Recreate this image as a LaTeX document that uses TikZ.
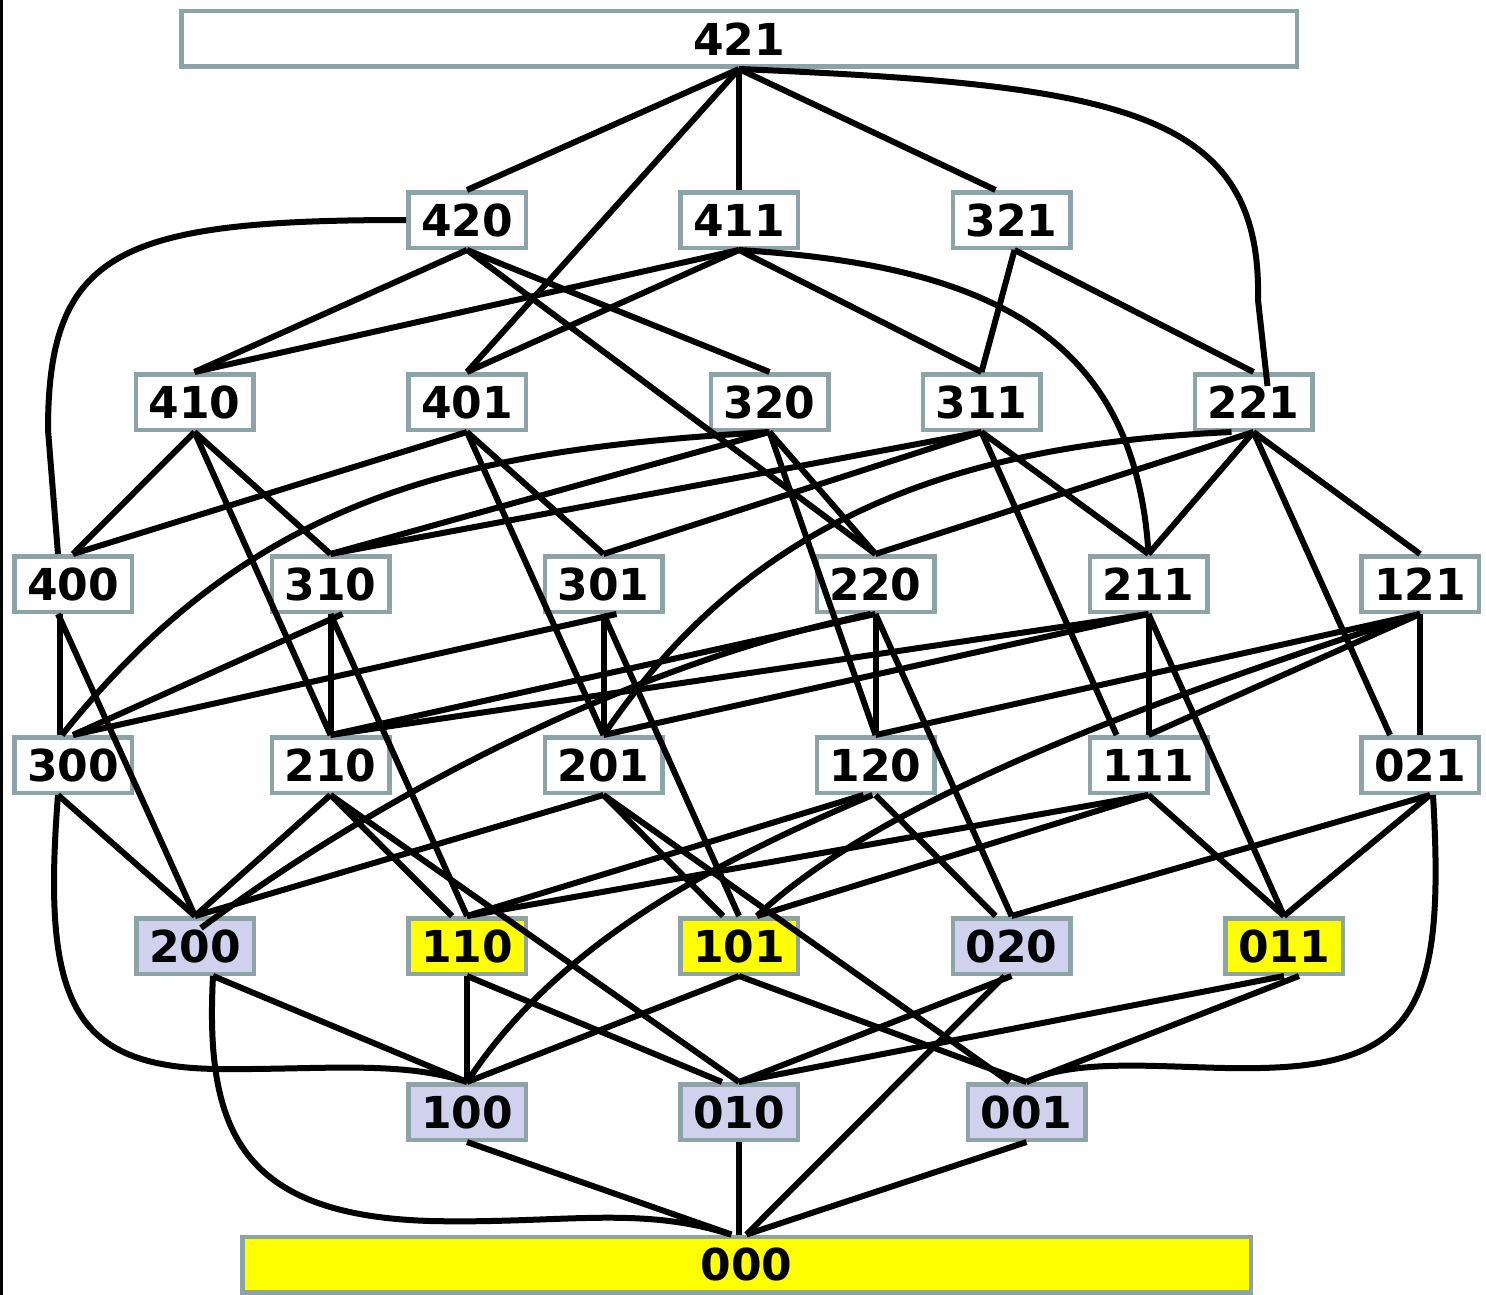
\documentclass[tikz,border=0pt]{standalone}
\usepackage{fontspec}
\newfontfamily\nodefont{DejaVu Sans}
\definecolor{boxc}{HTML}{8CA4A6}
\definecolor{lavc}{HTML}{D0D1ED}
\definecolor{yelc}{HTML}{FFFF00}
\begin{document}
\begin{tikzpicture}[x=1pt,y=-1pt,
  box/.style={draw=boxc, line width=4.5pt, fill=white, minimum width=117.5pt, minimum height=55.5pt,
    inner sep=0pt, font=\nodefont\bfseries\fontsize{44}{44}\selectfont},
  lav/.style={box, fill=lavc},
  yel/.style={box, fill=yelc},
  edge/.style={line width=6pt, black}]
\useasboundingbox (0,0) rectangle (1486,1295);
\fill[black] (0,0) rectangle (3,1295);
% nodes
\node[box, minimum width=1115.5pt] (n421) at (739,39) {421};
\node[box] (n420) at (467,220) {420};
\node[box] (n411) at (739,220) {411};
\node[box] (n321) at (1011.5,220) {321};
\node[box] (n410) at (194.5,402) {410};
\node[box] (n401) at (467,402) {401};
\node[box] (n320) at (769.5,402) {320};
\node[box] (n311) at (981.5,402) {311};
\node[box] (n221) at (1253.5,402) {221};
\node[box] (n400) at (73,584) {400};
\node[box] (n310) at (330.5,584) {310};
\node[box] (n301) at (603.5,584) {301};
\node[box] (n220) at (875.5,584) {220};
\node[box] (n211) at (1148.5,584) {211};
\node[box] (n121) at (1420,584) {121};
\node[box] (n300) at (73,765) {300};
\node[box] (n210) at (330.5,765) {210};
\node[box] (n201) at (603.5,765) {201};
\node[box] (n120) at (875.5,765) {120};
\node[box] (n111) at (1148.5,765) {111};
\node[box] (n021) at (1420,765) {021};
\node[lav] (n200) at (195,946) {200};
\node[yel] (n110) at (467,946) {110};
\node[yel] (n101) at (739,946) {101};
\node[lav] (n020) at (1011.5,946) {020};
\node[yel] (n011) at (1284,946) {011};
\node[lav] (n100) at (467,1112) {100};
\node[lav] (n010) at (739,1112) {010};
\node[lav] (n001) at (1026.5,1112) {001};
\node[yel, minimum width=1008.5pt] (n000) at (746.5,1264.5) {000};
% edges from 421
\draw[edge] (n421.south) -- (n420.north);
\draw[edge] (n421.south) -- (n411.north);
\draw[edge] (n421.south) -- ([xshift=-16pt]n321.north);
\draw[edge] (n421.south) -- (n401.north);
\draw[edge] (n421.south) .. controls (1120,85) and (1262,110) .. (1258,300) -- ([xshift=14pt,yshift=-14pt]n221.north);
% 420
\draw[edge] (n420.west) .. controls (120,220) and (48,250) .. (48,430) -- ([xshift=-15pt]n400.north);
\draw[edge] (n420.south) -- (n410.north);
\draw[edge] (n420.south) -- (n320.north);
\draw[edge] (n420.south) -- (n220.north);
% 411
\draw[edge] (n411.south) -- (n410.north);
\draw[edge] (n411.south) -- (n401.north);
\draw[edge] (n411.south) -- (n311.north);
\draw[edge] (n411.south) .. controls (980,265) and (1135,330) .. (n211.north);
% 321
\draw[edge] ([xshift=3pt]n321.south) -- (n311.north);
\draw[edge] ([xshift=3pt]n321.south) -- (n221.north);
% 410
\draw[edge] (n410.south) -- (n400.north);
\draw[edge] (n410.south) -- (n310.north);
\draw[edge] (n410.south) -- (n210.north);
% 401
\draw[edge] (n401.south) -- (n400.north);
\draw[edge] (n401.south) -- (n301.north);
\draw[edge] (n401.south) -- (n201.north);
% 320
\draw[edge] (n320.south) -- (n310.north);
\draw[edge] (n320.south) -- (n220.north);
\draw[edge] (n320.south) -- (n120.north);
\draw[edge] (n320.south) .. controls (450,450) and (250,500) .. ([xshift=-11pt]n300.north);
% 311
\draw[edge] (n311.south) -- (n310.north);
\draw[edge] (n311.south) -- (n301.north);
\draw[edge] (n311.south) -- (n211.north);
\draw[edge] (n311.south) -- ([xshift=-32pt]n111.north);
% 221
\draw[edge] (n221.south) -- (n220.north);
\draw[edge] (n221.south) -- (n211.north);
\draw[edge] (n221.south) -- (n121.north);
\draw[edge] (n221.south) -- ([xshift=-30pt]n021.north);
\draw[edge] ([xshift=-22pt]n221.south) .. controls (950,445) and (750,520) .. (n201.north);
% 400
\draw[edge] ([xshift=-13pt]n400.south) -- ([xshift=-13pt]n300.north);
\draw[edge] ([xshift=-15pt]n400.south) -- (n200.north);
% 310
\draw[edge] ([xshift=12pt]n310.south) -- (n300.north);
\draw[edge] (n310.south) -- (n210.north);
\draw[edge] (n310.south) -- (n110.north);
% 301
\draw[edge] ([xshift=13pt]n301.south) -- (n300.north);
\draw[edge] (n301.south) -- (n201.north);
\draw[edge] (n301.south) -- (n101.north);
% 220
\draw[edge] (n220.south) -- (n210.north);
\draw[edge] (n220.south) -- (n120.north);
\draw[edge] (n220.south) -- (n020.north);
\draw[edge] ([xshift=-5pt]n220.south) .. controls (650,660) and (400,780) .. ([xshift=6pt,yshift=-12pt]n200.north);
% 211
\draw[edge] (n211.south) -- (n210.north);
\draw[edge] (n211.south) -- (n201.north);
\draw[edge] (n211.south) -- (n111.north);
\draw[edge] (n211.south) -- (n011.north);
% 121
\draw[edge] (n121.south) -- (n120.north);
\draw[edge] (n121.south) -- (n111.north);
\draw[edge] (n121.south) -- (n021.north);
\draw[edge] (n121.south) .. controls (1150,700) and (880,800) .. ([xshift=18pt]n101.north);
% 300
\draw[edge] ([xshift=-15pt]n300.south) -- (n200.north);
\draw[edge] ([xshift=-15pt]n300.south) .. controls (42,1000) and (70,1068) .. (220,1069) .. controls (320,1070) and (400,1060) .. (n100.north);
% 210
\draw[edge] (n210.south) -- (n200.north);
\draw[edge] (n210.south) -- ([xshift=-15pt]n110.north);
\draw[edge] (n210.south) -- (n010.north);
% 201
\draw[edge] (n201.south) -- (n200.north);
\draw[edge] (n201.south) -- ([xshift=-16pt]n101.north);
\draw[edge] (n201.south) -- ([xshift=-17pt]n001.north);
% 120
\draw[edge] ([xshift=-12pt]n120.south) -- (n110.north);
\draw[edge] (n120.south) -- ([xshift=-16pt]n020.north);
\draw[edge] ([xshift=-3pt]n120.south) .. controls (720,860) and (560,940) .. (n100.north);
% 111
\draw[edge] (n111.south) -- (n110.north);
\draw[edge] (n111.south) -- ([xshift=18pt]n101.north);
\draw[edge] (n111.south) -- (n011.north);
% 021
\draw[edge] ([xshift=10pt]n021.south) -- (n020.north);
\draw[edge] ([xshift=10pt]n021.south) -- (n011.north);
\draw[edge] ([xshift=13pt]n021.south) .. controls (1445,1000) and (1420,1065) .. (1260,1068) .. controls (1180,1070) and (1080,1055) .. (n001.north);
% 200
\draw[edge] ([xshift=18pt]n200.south) -- (n100.north);
\draw[edge] ([xshift=18pt]n200.south) .. controls (205,1130) and (240,1215) .. (430,1221) .. controls (560,1224) and (640,1205) .. ([xshift=-16pt]n000.north);
% 110
\draw[edge] (n110.south) -- (n100.north);
\draw[edge] (n110.south) -- ([xshift=-17pt]n010.north);
% 101
\draw[edge] (n101.south) -- (n100.north);
\draw[edge] (n101.south) -- (n001.north);
% 020
\draw[edge] (n020.south) -- (n010.north);
\draw[edge] ([xshift=-7pt]n020.south) -- (n000.north);
% 011
\draw[edge] (n011.south) -- (n010.north);
\draw[edge] ([xshift=15pt]n011.south) -- (n001.north);
% bottom row
\draw[edge] (n100.south) -- ([xshift=-15pt]n000.north);
\draw[edge] (n010.south) -- ([xshift=-7.5pt]n000.north);
\draw[edge] (n001.south) -- (n000.north);
\end{tikzpicture}
\end{document}
